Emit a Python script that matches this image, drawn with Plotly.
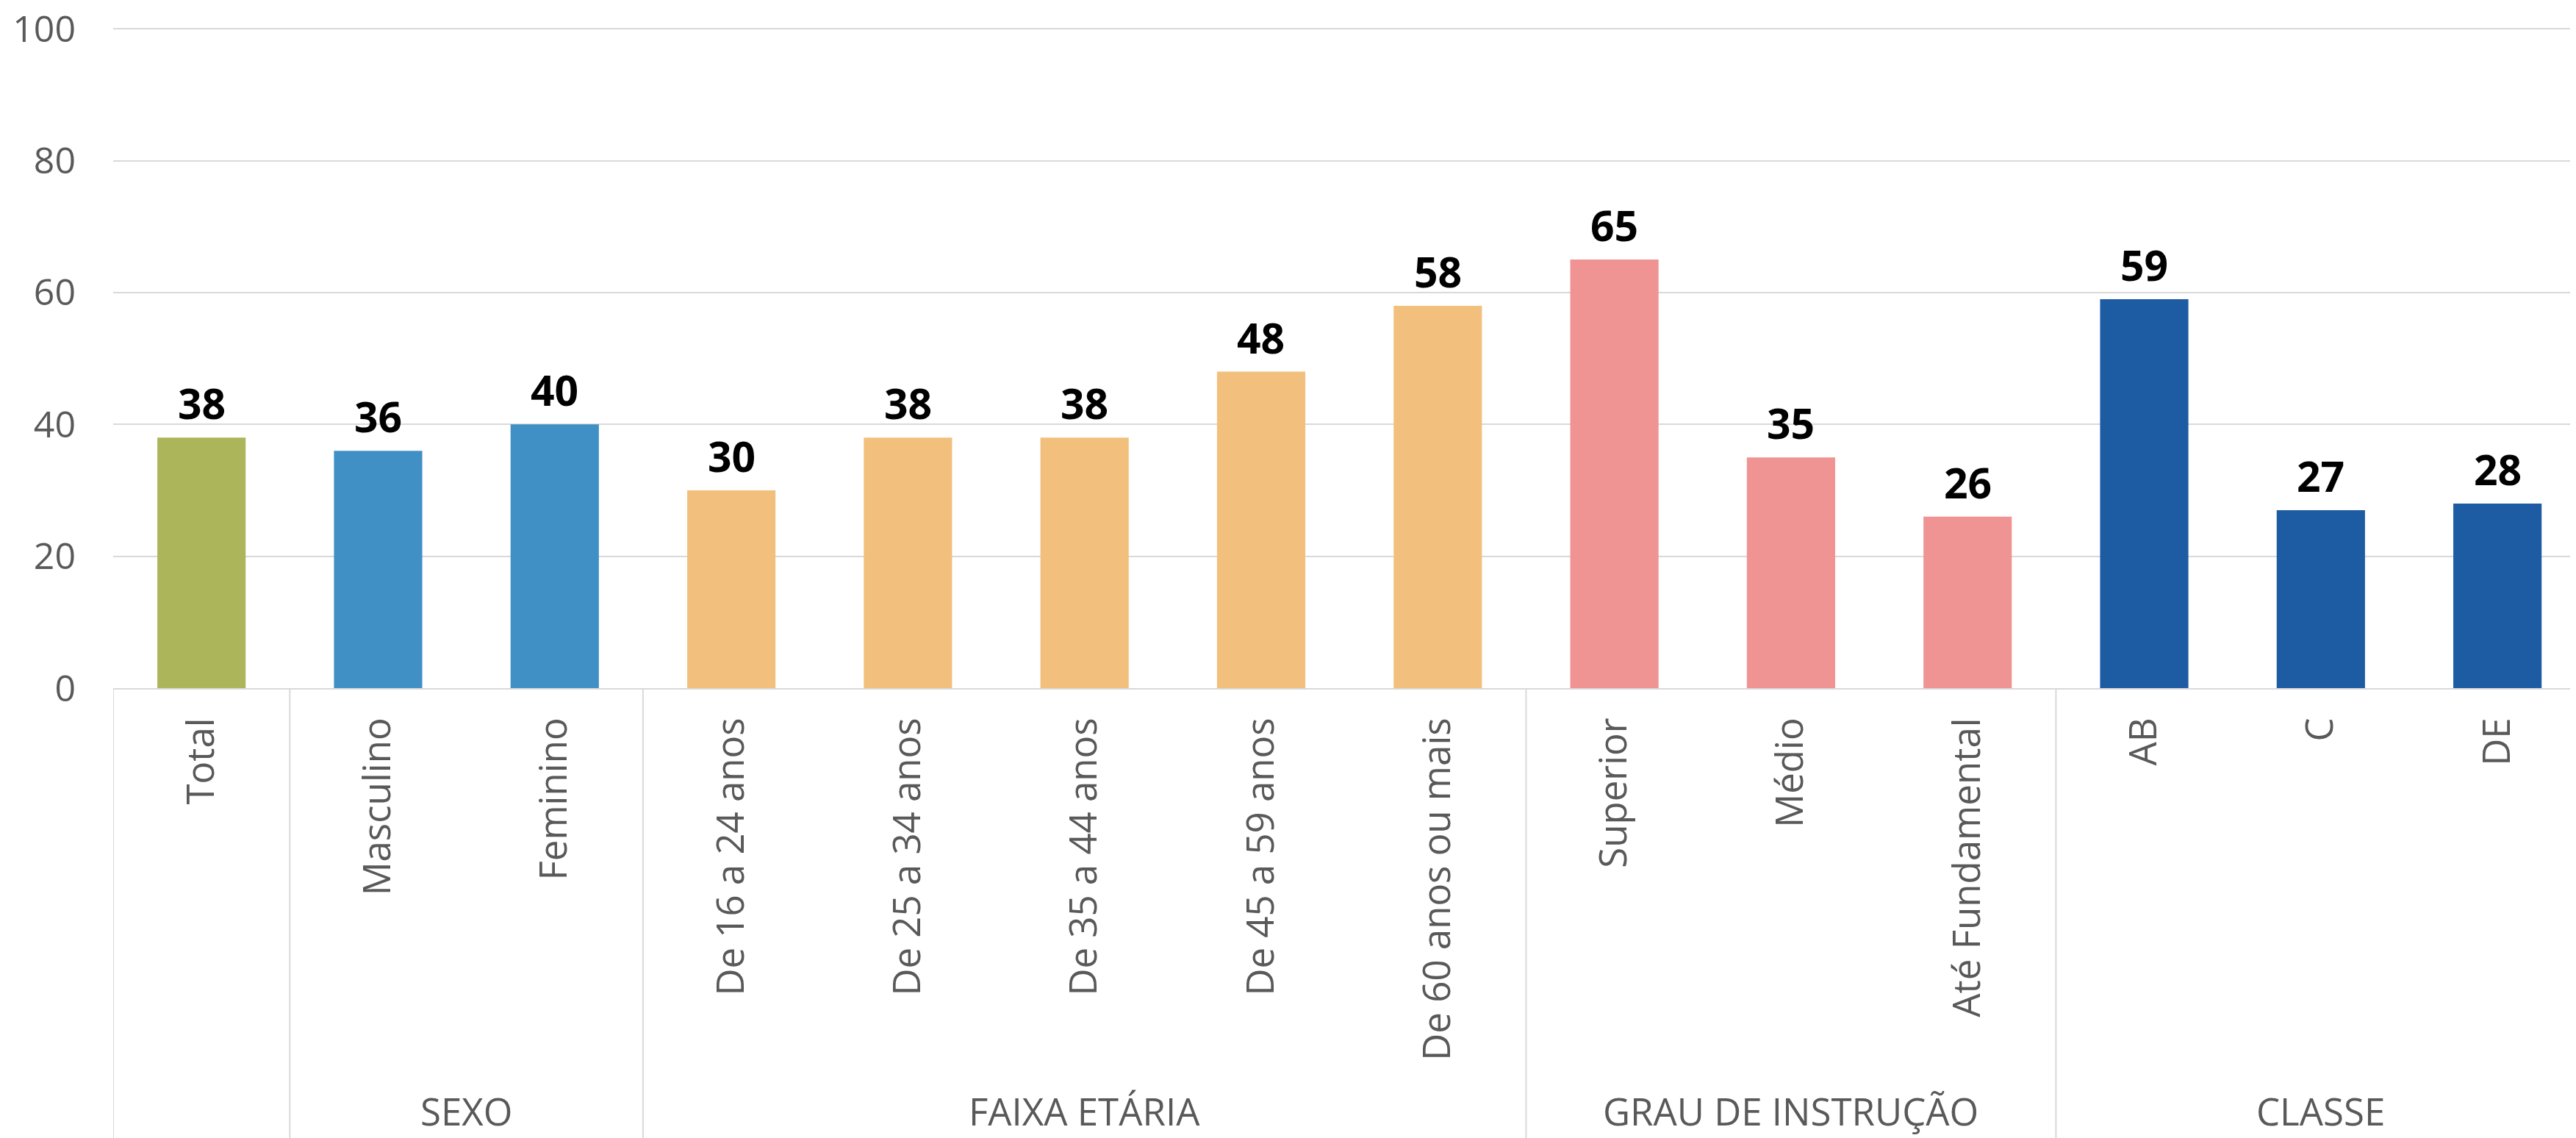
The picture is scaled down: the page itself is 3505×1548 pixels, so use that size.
import plotly.graph_objects as go

categories = ["Total", "Masculino", "Feminino", "De 16 a 24 anos", "De 25 a 34 anos",
              "De 35 a 44 anos", "De 45 a 59 anos", "De 60 anos ou mais", "Superior",
              "Médio", "Até Fundamental", "AB", "C", "DE"]
values = [38, 36, 40, 30, 38, 38, 48, 58, 65, 35, 26, 59, 27, 28]
group_names = ["", "SEXO", "FAIXA ETÁRIA", "GRAU DE INSTRUÇÃO", "CLASSE"]
group_sizes = [1, 2, 5, 3, 3]
group_colors = ["#adb55a", "#4090c5", "#f2c07c", "#f09393", "#1d5ba3"]
y_ticks = [0, 20, 40, 60, 80, 100]

FONT = "Open Sans"
GREY = "#595959"
LINE = "#d9d9d9"

bar_colors = []
for c, n in zip(group_colors, group_sizes):
    bar_colors += [c] * n

fig = go.Figure()
fig.add_trace(go.Bar(x=categories, y=values, marker=dict(color=bar_colors, line=dict(width=0)),
                     width=0.5, hoverinfo="x+y"))

annotations = []
for cat, v in zip(categories, values):
    annotations.append(dict(x=cat, y=v, xref="x", yref="y", text=str(v), showarrow=False,
                            yanchor="bottom", yshift=6,
                            font=dict(family=FONT, size=57, color="#000000", weight="bold")))

shapes = []
start = 0
for name, n in zip(group_names, group_sizes):
    shapes.append(dict(type="line", xref="x", yref="paper", x0=start - 0.5, x1=start - 0.5,
                       y0=0, y1=-0.72, line=dict(color=LINE, width=2)))
    if name:
        annotations.append(dict(x=start + (n - 1) / 2, y=-0.64, xref="x", yref="paper",
                                text=name, showarrow=False, yanchor="middle",
                                font=dict(family=FONT, size=51, color=GREY)))
    start += n

fig.update_layout(
    width=3505, height=1548,
    margin=dict(l=146, r=0, t=29, b=620),
    paper_bgcolor="white", plot_bgcolor="white",
    showlegend=False,
    bargap=0.5,
    annotations=annotations,
    shapes=shapes,
    font=dict(family=FONT, color=GREY),
    xaxis=dict(type="category", range=[-0.5, 13.478], tickangle=-90, automargin=False,
               tickfont=dict(family=FONT, size=51, color=GREY),
               showgrid=False, showline=True, linecolor=LINE, linewidth=2,
               ticks="", ticklabelstandoff=18, zeroline=False),
    yaxis=dict(range=[0, 100.25], tickvals=y_ticks, showgrid=True, gridcolor=LINE, gridwidth=2,
               automargin=False, ticklabeloverflow="allow",
               tickfont=dict(family=FONT, size=50, color=GREY), ticks="",
               ticklabelstandoff=50, zeroline=False, showline=False),
)

fig.write_html("out.html")
